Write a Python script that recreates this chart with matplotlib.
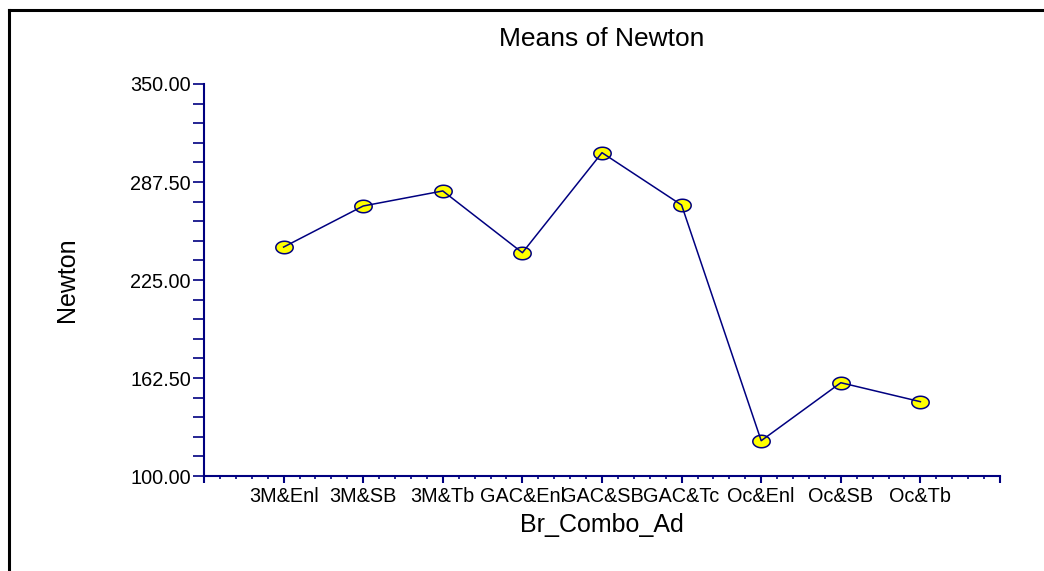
import numpy as np
import matplotlib.pyplot as plt
from matplotlib.lines import Line2D
from matplotlib.path import Path
from matplotlib.ticker import FixedLocator, MultipleLocator, FormatStrFormatter

plt.rcParams["font.family"] = ["Liberation Sans", "DejaVu Sans"]

categories = ["3M&Enl", "3M&SB", "3M&Tb", "GAC&Enl", "GAC&SB",
              "GAC&Tc", "Oc&Enl", "Oc&SB", "Oc&Tb"]
means = [246.0, 272.2, 281.8, 242.4, 306.2, 272.8, 122.5, 159.5, 147.4]
y_ticks = [100.0, 162.5, 225.0, 287.5, 350.0]

NAVY = "#000080"

W, H = 1044, 571
fig = plt.figure(figsize=(W / 100, H / 100), dpi=100)
ax = fig.add_axes([204 / W, 1 - 476 / H, (1000 - 204) / W, (476 - 84) / H])

x = np.arange(1, len(categories) + 1)

# ellipse marker, wider than tall
t = np.linspace(0, 2 * np.pi, 60)
ell = Path(np.column_stack([np.cos(t), 0.72 * np.sin(t)]), closed=True)

ax.plot(x, means, linestyle="none", marker=ell, markersize=12.5,
        markerfacecolor="#ffff00", markeredgecolor=NAVY,
        markeredgewidth=1.1, zorder=3, clip_on=False)
ax.plot(x, means, color=NAVY, linewidth=1.1, zorder=4, clip_on=False)

ax.set_xlim(0, 10)
ax.set_ylim(100, 350)

ax.xaxis.set_major_locator(FixedLocator(list(range(0, 11))))
ax.set_xticklabels([""] + categories + [""])
ax.xaxis.set_minor_locator(MultipleLocator(0.2))
ax.set_yticks(y_ticks)
ax.yaxis.set_major_formatter(FormatStrFormatter("%.2f"))
ax.yaxis.set_minor_locator(MultipleLocator(12.5))

for s in ["top", "right"]:
    ax.spines[s].set_visible(False)
for s in ["left", "bottom"]:
    ax.spines[s].set_color(NAVY)
    ax.spines[s].set_linewidth(1.5)

ax.tick_params(axis="x", which="major", direction="out", length=5,
               width=1.5, color=NAVY, labelsize=14.3, pad=3)
ax.tick_params(axis="x", which="minor", direction="out", length=2.5,
               width=1.2, color=NAVY)
ax.tick_params(axis="y", which="both", direction="out", length=8,
               width=1.2, color=NAVY, labelsize=14.3, pad=1.5)

ax.set_title("Means of Newton", fontsize=19, pad=27)
ax.set_xlabel("Br_Combo_Ad", fontsize=18, labelpad=5)
ax.set_ylabel("Newton", fontsize=18, labelpad=37)

# outer frame (left and top edges)
fig.add_artist(Line2D([8.5 / W, 8.5 / W], [0, 1 - 9.5 / H],
                      transform=fig.transFigure, color="black", linewidth=2.2))
fig.add_artist(Line2D([8.5 / W, 1], [1 - 9.5 / H, 1 - 9.5 / H],
                      transform=fig.transFigure, color="black", linewidth=2.2))

fig.savefig("out.png", dpi=100)
